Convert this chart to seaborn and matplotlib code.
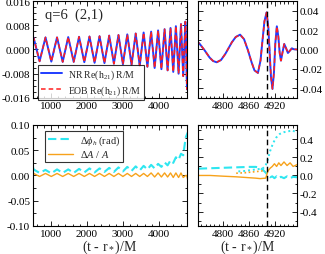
import numpy as np
import seaborn as sns
import matplotlib
matplotlib.use('Agg')
import matplotlib.pyplot as plt
from matplotlib.ticker import MultipleLocator, FormatStrFormatter

# --- waveform Re(h21) R/M : extrema during inspiral, denser through merger
t_wave = [500, 517, 683, 848, 1009, 1168, 1325, 1479, 1631, 1780, 1926,
          2070, 2211, 2349, 2485, 2618, 2748, 2875, 2999, 3120, 3238,
          3353, 3465, 3574, 3679, 3782, 3880, 3976, 4068, 4156, 4240,
          4321, 4397, 4470, 4545, 4612, 4674, 4733,
          4745, 4757, 4769, 4777, 4785, 4795, 4805, 4812, 4820, 4829, 4839,
          4848, 4857, 4865, 4872, 4880, 4886, 4890, 4895, 4900, 4904, 4907,
          4910, 4913.5, 4917, 4920, 4923.5, 4927, 4930, 4933, 4937, 4940.5,
          4945, 4949, 4954, 4958, 4963, 4970]
h_nr = [0.0036, 0.0039, -0.0039, 0.0040, -0.0040, 0.0040, -0.0041, 0.0041,
        -0.0041, 0.0042, -0.0042, 0.0043, -0.0044, 0.0044, -0.0045, 0.0046,
        -0.0047, 0.0048, -0.0049, 0.0050, -0.0051, 0.0053, -0.0054, 0.0056,
        -0.0057, 0.0059, -0.0061, 0.0063, -0.0065, 0.0067, -0.0069, 0.0071,
        -0.0074, 0.0077, -0.0080, 0.0084, -0.0088, 0.0092,
        0.0064, -0.0006, -0.0084, -0.0119, -0.0132, -0.0109, -0.0046, 0.0010,
        0.0074, 0.0129, 0.0153, 0.0107, -0.0007, -0.0126, -0.0215, -0.0242,
        -0.0113, 0.0071, 0.0291, 0.0383, 0.0224, -0.0035, -0.0283, -0.0407,
        -0.0231, 0.0063, 0.0239, 0.0133, -0.0035, -0.0115, -0.0020, 0.0057,
        0.0011, -0.0036, -0.0010, 0.0012, 0.0002, 0.0000]
h_eob = h_nr

# --- phase / amplitude differences
t_diff = [500, 517, 683, 848, 1009, 1168, 1325, 1479, 1631, 1780, 1926,
          2070, 2211, 2349, 2485, 2618, 2748, 2875, 2999, 3120, 3238,
          3353, 3465, 3574, 3679, 3782, 3880, 3976, 4068, 4156, 4240,
          4321, 4397, 4470, 4545, 4612, 4674, 4742, 4770, 4800, 4830,
          4860, 4875, 4885, 4892, 4898, 4903, 4908, 4913, 4918, 4923,
          4928, 4933, 4940, 4947, 4954, 4961, 4970]
dphi = [0.016, 0.012, 0.005, 0.011, 0.004, 0.012, 0.005, 0.012, 0.005,
        0.013, 0.006, 0.014, 0.006, 0.014, 0.007, 0.015, 0.007, 0.016,
        0.008, 0.017, 0.009, 0.018, 0.010, 0.019, 0.012, 0.021, 0.014,
        0.023, 0.017, 0.026, 0.020, 0.030, 0.025, 0.036, 0.031, 0.043,
        0.040, 0.075, 0.080, 0.085, 0.090, 0.095, 0.095, 0.085, 0.060,
        0.030, 0.000, -0.020, -0.010, -0.030, -0.010, -0.030, -0.015,
        -0.030, -0.010, -0.030, -0.015, -0.020]
damp = [0.002, 0.004, -0.002, 0.004, -0.002, 0.004, -0.002, 0.004, -0.002,
        0.004, -0.002, 0.004, -0.002, 0.004, -0.002, 0.004, -0.002, 0.004,
        -0.002, 0.004, -0.002, 0.004, -0.002, 0.004, -0.002, 0.005, -0.003,
        0.005, -0.003, 0.005, -0.003, 0.005, -0.004, 0.005, -0.004, 0.005,
        -0.004, 0.000, 0.000, -0.008, -0.015, -0.025, -0.030, -0.035,
        -0.032, -0.030, 0.050, 0.080, 0.100, 0.130, 0.100, 0.140, 0.110,
        0.150, 0.110, 0.140, 0.100, 0.120]

# dotted curves near merger
t_dot = [4835, 4850, 4865, 4880, 4890, 4897, 4903, 4908, 4915, 4922,
         4930, 4940, 4950, 4960, 4970]
dphi_dot = [0.045, 0.050, 0.060, 0.070, 0.075, 0.100, 0.180, 0.270, 0.360,
            0.420, 0.460, 0.480, 0.490, 0.500, 0.470]
t_dot2 = [4830, 4850, 4870, 4890, 4897]
damp_dot = [0.025, 0.030, 0.040, 0.050, 0.040]

t_merger = 4900

sns.set_style('ticks')
plt.rcParams['font.family'] = ['Liberation Serif', 'DejaVu Serif']
plt.rcParams['mathtext.fontset'] = 'custom'
plt.rcParams['mathtext.rm'] = 'Liberation Serif'
plt.rcParams['mathtext.it'] = 'Liberation Serif:italic'
plt.rcParams['axes.unicode_minus'] = False

fig = plt.figure(figsize=(3.25, 2.55), dpi=100)
ax_tl = fig.add_axes([0.1015, 0.612, 0.474, 0.380])
ax_tr = fig.add_axes([0.609, 0.612, 0.305, 0.380])
ax_bl = fig.add_axes([0.1015, 0.110, 0.474, 0.396])
ax_br = fig.add_axes([0.609, 0.110, 0.305, 0.396])

blue = '#1f3cff'
red = '#ff1f1f'
cyan = '#2ee6f0'
orange = '#f7a21b'

for ax in (ax_tl, ax_tr):
    sns.lineplot(x=t_wave, y=h_nr, ax=ax, color=blue, lw=1.4, estimator=None,
                 label=r'NR Re(h$_{21}$) R/M')
    sns.lineplot(x=t_wave, y=h_eob, ax=ax, color=red, lw=1.1, estimator=None,
                 linestyle=(0, (3, 2)), label=r'EOB Re(h$_{21}$) R/M')

for ax in (ax_bl, ax_br):
    sns.lineplot(x=t_diff, y=dphi, ax=ax, color=cyan, lw=1.5, estimator=None,
                 linestyle=(0, (4, 2)), label=r'$\Delta\phi_h$ (rad)')
    sns.lineplot(x=t_diff, y=damp, ax=ax, color=orange, lw=1.0, estimator=None,
                 label=r'$\Delta A$ / $A$')
sns.lineplot(x=t_dot, y=dphi_dot, ax=ax_br, color=cyan, lw=1.4,
             estimator=None, linestyle=(0, (1, 1.5)))
sns.lineplot(x=t_dot2, y=damp_dot, ax=ax_br, color=orange, lw=1.2,
             estimator=None, linestyle=(0, (1, 1.5)))

for ax in (ax_tr, ax_br):
    ax.axvline(t_merger, color='black', lw=1.0, ls=(0, (4, 2.5)), zorder=10)

ax_tl.set_xlim(500, 4780)
ax_bl.set_xlim(500, 4780)
ax_tr.set_xlim(4742, 4970)
ax_br.set_xlim(4742, 4970)
ax_tl.set_ylim(-0.016, 0.016)
ax_tr.set_ylim(-0.05, 0.05)
ax_bl.set_ylim(-0.10, 0.10)
ax_br.set_ylim(-0.56, 0.56)

for ax in (ax_tl, ax_bl):
    ax.xaxis.set_major_locator(MultipleLocator(1000))
    ax.xaxis.set_minor_locator(MultipleLocator(200))
for ax in (ax_tr, ax_br):
    ax.xaxis.set_major_locator(MultipleLocator(60))
    ax.xaxis.set_minor_locator(MultipleLocator(10))
ax_tl.yaxis.set_major_locator(MultipleLocator(0.008))
ax_tl.yaxis.set_minor_locator(MultipleLocator(0.002))
ax_tl.yaxis.set_major_formatter(FormatStrFormatter('%.3f'))
ax_tr.yaxis.set_major_locator(MultipleLocator(0.02))
ax_tr.yaxis.set_minor_locator(MultipleLocator(0.01))
ax_tr.yaxis.set_major_formatter(FormatStrFormatter('%.2f'))
ax_bl.yaxis.set_major_locator(MultipleLocator(0.05))
ax_bl.yaxis.set_minor_locator(MultipleLocator(0.025))
ax_bl.yaxis.set_major_formatter(FormatStrFormatter('%.2f'))
ax_br.yaxis.set_major_locator(MultipleLocator(0.2))
ax_br.yaxis.set_minor_locator(MultipleLocator(0.1))
ax_br.yaxis.set_major_formatter(FormatStrFormatter('%.1f'))
ax_tr.xaxis.set_major_formatter(FormatStrFormatter('%d'))
ax_br.xaxis.set_major_formatter(FormatStrFormatter('%d'))

for ax in (ax_tl, ax_tr, ax_bl, ax_br):
    ax.tick_params(which='both', direction='in', top=True, right=True,
                   left=True, bottom=True, labelsize=8, pad=2,
                   colors='black', width=0.6)
    ax.tick_params(which='major', length=3.5)
    ax.tick_params(which='minor', length=1.8)
    for s in ax.spines.values():
        s.set_color('black')
        s.set_linewidth(0.8)
    ax.set_xlabel('')
    ax.set_ylabel('')
for ax in (ax_tr, ax_br):
    ax.tick_params(labelleft=False, labelright=True)

for ax in (ax_bl, ax_br):
    ax.set_xlabel(r'(t - r$_*$)/M', fontsize=10, labelpad=0)

ax_tl.text(0.075, 0.86, 'q=6  (2,1)', transform=ax_tl.transAxes,
           fontsize=10.5, va='center')

leg = ax_tl.legend(loc='upper left', bbox_to_anchor=(0.03, 0.345),
                   fontsize=7, frameon=True, fancybox=False, handlelength=2.2,
                   borderpad=0.3, labelspacing=0.25, handletextpad=0.6,
                   borderaxespad=0)
leg.get_frame().set_edgecolor('black')
leg.get_frame().set_linewidth(0.8)
leg = ax_bl.legend(loc='upper left', bbox_to_anchor=(0.078, 0.94),
                   fontsize=7.5, frameon=True, fancybox=False, handlelength=2.4,
                   borderpad=0.25, labelspacing=0.1, handletextpad=0.7,
                   borderaxespad=0)
leg.get_frame().set_edgecolor('black')
leg.get_frame().set_linewidth(0.8)
for ax in (ax_tr, ax_br):
    if ax.get_legend():
        ax.get_legend().remove()

fig.savefig('out.png', dpi=100)
